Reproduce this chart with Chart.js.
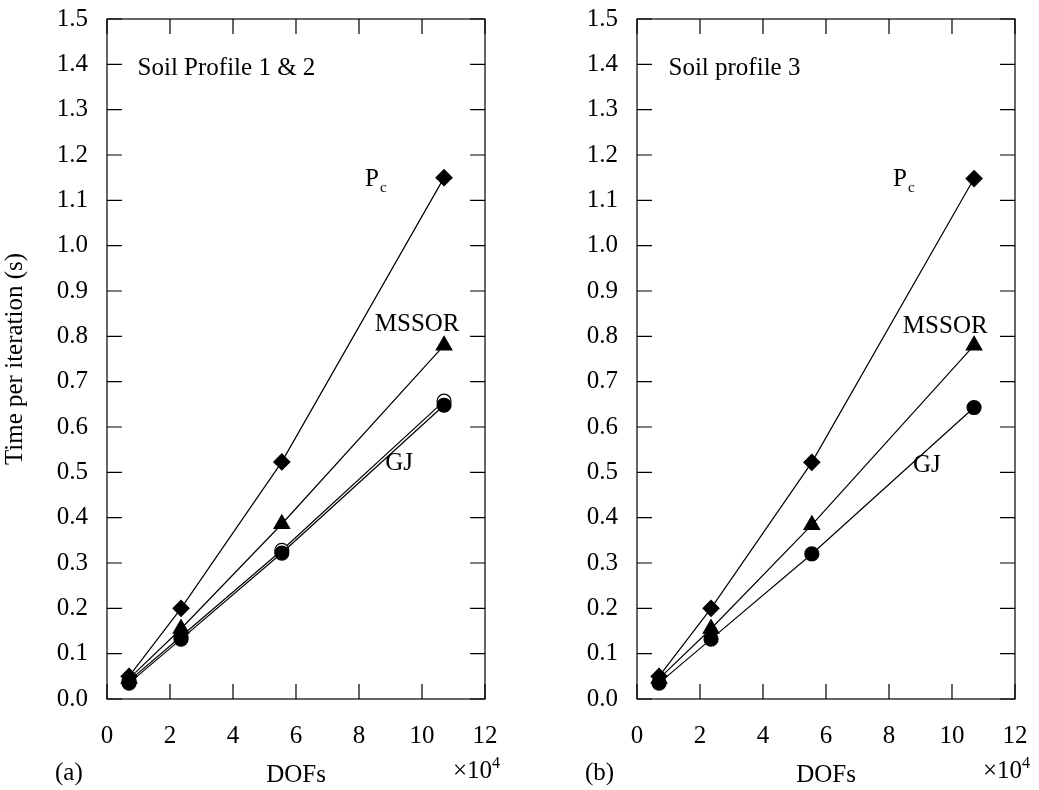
<!DOCTYPE html>
<html>
<head>
<meta charset="utf-8">
<script src="https://cdn.jsdelivr.net/npm/chart.js@4.4.0/dist/chart.umd.min.js"></script>
<style>
  body { margin: 0; background: #fff; }
  #wrap { position: relative; width: 1039px; height: 790px; }
  canvas { position: absolute; top: 0; }
</style>
</head>
<body>
<div id="wrap">
  <canvas id="chartA" width="520" height="790" style="left:0"></canvas>
  <canvas id="chartB" width="519" height="790" style="left:520px"></canvas>
</div>
<script>
// valores (DOFs en unidades de 10^4, tiempo en s)
const dofs = [0.7, 2.35, 5.55, 10.7];

const pcA = [0.05, 0.20, 0.523, 1.15];
const mssorA = [0.045, 0.155, 0.386, 0.78];
const gjA = [0.035, 0.132, 0.322, 0.648];
const gjOpenA = [0.04, 0.138, 0.328, 0.657];

const pcB = [0.05, 0.20, 0.522, 1.148];
const mssorB = [0.045, 0.155, 0.384, 0.78];
const gjB = [0.035, 0.132, 0.32, 0.643];

const xTicks = [0, 2, 4, 6, 8, 10, 12];
const yTicks = [0.0, 0.1, 0.2, 0.3, 0.4, 0.5, 0.6, 0.7, 0.8, 0.9, 1.0, 1.1, 1.2, 1.3, 1.4, 1.5];

const FONT = "'Liberation Serif', 'Times New Roman', serif";

function pts(ys) {
  return dofs.map((x, i) => ({ x: x, y: ys[i] }));
}

function series(ys, style, radius, fill, order) {
  return {
    data: pts(ys),
    showLine: true,
    borderColor: "#000",
    borderWidth: 1.2,
    pointStyle: style,
    pointRadius: radius,
    pointHoverRadius: radius,
    pointBackgroundColor: fill,
    pointBorderColor: "#000",
    pointBorderWidth: 1.2,
    order: order || 0
  };
}

// marco y marcas hacia dentro, en los cuatro lados
const frameTicks = {
  id: "frameTicks",
  beforeDatasetsDraw(chart) {
    const { ctx, chartArea: a, scales: { x, y } } = chart;
    ctx.save();
    ctx.strokeStyle = "#000";
    ctx.lineWidth = 1.2;
    ctx.strokeRect(a.left, a.top, a.right - a.left, a.bottom - a.top);
    ctx.beginPath();
    xTicks.forEach(v => {
      const px = x.getPixelForValue(v);
      ctx.moveTo(px, a.bottom); ctx.lineTo(px, a.bottom - 15);
      ctx.moveTo(px, a.top); ctx.lineTo(px, a.top + 15);
    });
    yTicks.forEach(v => {
      const py = y.getPixelForValue(v);
      ctx.moveTo(a.left, py); ctx.lineTo(a.left + 15, py);
      ctx.moveTo(a.right, py); ctx.lineTo(a.right - 15, py);
    });
    ctx.stroke();
    ctx.restore();
  },
  afterDraw(chart, args, opts) {
    const { ctx, chartArea: a, scales: { x, y } } = chart;
    ctx.save();
    ctx.fillStyle = "#000";
    ctx.textBaseline = "alphabetic";
    ctx.textAlign = "left";
    (opts.notes || []).forEach(n => {
      const px = x.getPixelForValue(n.x);
      const py = y.getPixelForValue(n.y);
      ctx.font = "25px " + FONT;
      ctx.fillText(n.text, px, py);
      if (n.sub) {
        const w = ctx.measureText(n.text).width;
        ctx.font = "15px " + FONT;
        ctx.fillText(n.sub, px + w + 1, py + 6);
      }
    });
    // letra del panel y factor de escala
    ctx.font = "25px " + FONT;
    ctx.fillText(opts.panel, a.left - 52, 780);
    const ex = a.right - 32;
    ctx.fillText("\u00d710", ex, 778);
    const w = ctx.measureText("\u00d710").width;
    ctx.font = "16px " + FONT;
    ctx.fillText("4", ex + w, 768);
    ctx.restore();
  }
};

function makeChart(id, datasets, notes, panel, yWidth, padRight, showYTitle) {
  return new Chart(document.getElementById(id), {
    type: "scatter",
    data: { datasets: datasets },
    options: {
      responsive: false,
      animation: false,
      layout: { padding: { top: 19, right: padRight, left: 0, bottom: 0 } },
      plugins: {
        legend: { display: false },
        tooltip: { enabled: false },
        frameTicks: { notes: notes, panel: panel }
      },
      scales: {
        x: {
          type: "linear",
          min: 0, max: 12,
          afterBuildTicks: s => { s.ticks = xTicks.map(v => ({ value: v })); },
          afterFit: s => { s.height = 91; s.paddingLeft = 0; s.paddingRight = 0; },
          grid: { display: false, drawTicks: false },
          border: { display: false },
          ticks: { color: "#000", font: { family: FONT, size: 25 }, padding: 22, maxRotation: 0 },
          title: { display: true, text: "DOFs", color: "#000", font: { family: FONT, size: 25 }, padding: { top: 0, bottom: 0 } }
        },
        y: {
          type: "linear",
          min: 0, max: 1.5,
          afterBuildTicks: s => { s.ticks = yTicks.map(v => ({ value: v })); },
          afterFit: s => { s.width = yWidth; s.paddingTop = 0; s.paddingBottom = 0; },
          grid: { display: false, drawTicks: false },
          border: { display: false },
          ticks: { color: "#000", font: { family: FONT, size: 25 }, padding: 19, callback: v => v.toFixed(1) },
          title: { display: showYTitle, text: "Time per iteration (s)", color: "#000", font: { family: FONT, size: 25 }, padding: { top: 0, bottom: 0 } }
        }
      }
    },
    plugins: [frameTicks]
  });
}

makeChart("chartA", [
  series(pcA, "rectRot", 8, "#000"),
  series(mssorA, "triangle", 9, "#000"),
  series(gjA, "circle", 7, "#000"),
  series(gjOpenA, "circle", 7, "#fff", 1)
], [
  { text: "Soil Profile 1 & 2", x: 0.97, y: 1.377 },
  { text: "P", sub: "c", x: 8.19, y: 1.132 },
  { text: "MSSOR", x: 8.5, y: 0.812 },
  { text: "GJ", x: 8.83, y: 0.505 }
], "(a)", 107, 35, true);

makeChart("chartB", [
  series(pcB, "rectRot", 8, "#000"),
  series(mssorB, "triangle", 9, "#000"),
  series(gjB, "circle", 7, "#000")
], [
  { text: "Soil profile 3", x: 1.0, y: 1.377 },
  { text: "P", sub: "c", x: 8.13, y: 1.132 },
  { text: "MSSOR", x: 8.44, y: 0.807 },
  { text: "GJ", x: 8.76, y: 0.5 }
], "(b)", 117, 24, false);
</script>
</body>
</html>
